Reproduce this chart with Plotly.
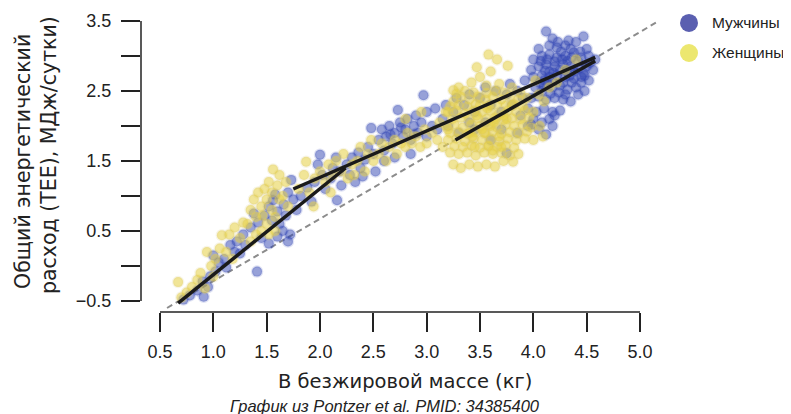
import plotly.graph_objects as go

# ---------------- data ----------------
x_ticks = [0.5, 1.0, 1.5, 2.0, 2.5, 3.0, 3.5, 4.0, 4.5, 5.0]
x_tick_labels = ["0.5", "1.0", "1.5", "2.0", "2.5", "3.0", "3.5", "4.0", "4.5", "5.0"]
y_ticks = [-0.5, 0.0, 0.5, 1.0, 1.5, 2.0, 2.5, 3.0, 3.5]
y_tick_labels = ["\u22120.5", "", "0.5", "", "1.5", "", "2.5", "", "3.5"]

series_names = ["Мужчины", "Женщины"]

men_points = [
    # tail
    (0.72, -0.48), (0.78, -0.42), (0.85, -0.35), (0.91, -0.44), (0.90, -0.22), (0.97, -0.15),
    (1.02, -0.08), (1.05, 0.05), (1.10, 0.10), (1.16, 0.30), (1.20, 0.20), (1.25, 0.18),
    (1.22, 0.35), (1.41, -0.08), (1.30, 0.30), (1.28, 0.45), (1.12, -0.02), (0.95, -0.30), (1.00, 0.15),
    # first cluster
    (1.35, 0.55), (1.42, 0.62), (1.48, 0.72), (1.52, 0.85), (1.56, 0.94), (1.60, 0.78), (1.62, 0.60),
    (1.65, 0.50), (1.70, 0.35), (1.72, 0.45), (1.66, 0.88), (1.58, 1.02), (1.70, 1.05), (1.75, 0.95),
    (1.45, 0.40), (1.52, 0.32), (1.38, 0.75), (1.60, 0.42), (1.55, 0.65), (1.68, 0.72), (1.73, 1.23),
    (1.78, 0.80),
    # middle
    (1.82, 1.00), (1.88, 1.12), (1.92, 0.92), (1.95, 1.20), (2.00, 1.59), (2.02, 1.30), (2.05, 1.10),
    (2.10, 1.25), (2.12, 1.40), (2.16, 0.94), (2.18, 1.35), (2.20, 1.15), (2.25, 1.45), (2.28, 1.30),
    (2.30, 1.55), (2.33, 1.20), (2.36, 1.62), (2.38, 1.40), (2.42, 1.52), (2.45, 1.70), (2.48, 1.97),
    (2.50, 1.60), (2.52, 1.35), (2.40, 1.28), (2.15, 1.55), (1.98, 1.45),
    # band
    (2.55, 1.80), (2.58, 1.95), (2.60, 1.65), (2.62, 1.85), (2.65, 2.00), (2.68, 1.75), (2.70, 1.90),
    (2.73, 2.23), (2.75, 2.05), (2.78, 1.85), (2.80, 1.95), (2.82, 2.10), (2.85, 1.80), (2.88, 2.00),
    (2.90, 2.15), (2.92, 1.90), (2.95, 2.05), (2.97, 2.44), (3.00, 2.20), (3.00, 1.85), (3.05, 2.00),
    (3.08, 2.25), (3.10, 1.95), (3.15, 2.10), (3.18, 2.30), (3.20, 2.00), (3.25, 2.20), (3.28, 2.40),
    (2.70, 1.55), (2.85, 1.60), (2.60, 1.50), (2.76, 1.98), (2.88, 1.88), (2.66, 1.88),
    # inside the women cluster
    (3.35, 2.30), (3.40, 2.45), (3.45, 2.20), (3.50, 2.40), (3.55, 2.55), (3.60, 2.30), (3.65, 2.50),
    (3.70, 2.20), (3.75, 2.45), (3.78, 2.60), (3.80, 2.30), (3.85, 2.50), (3.88, 2.15), (3.90, 2.40),
    (3.92, 2.65), (3.45, 1.95), (3.60, 1.80), (3.75, 1.61), (3.55, 2.05), (3.70, 1.95), (3.85, 1.90),
    (3.95, 2.00), (3.40, 2.05), (3.30, 1.90),
    # upper-right cluster
    (4.12, 3.35), (4.47, 3.28), (4.18, 3.25),
    (4.05, 3.10), (4.15, 3.15), (4.22, 3.12), (4.30, 3.15), (4.40, 3.20), (4.50, 3.10),
    (4.00, 2.95), (4.08, 3.00), (4.15, 3.02), (4.22, 2.98), (4.30, 3.00), (4.38, 3.05), (4.45, 2.98),
    (4.52, 3.00), (4.58, 2.95),
    (3.98, 2.80), (4.05, 2.85), (4.12, 2.88), (4.20, 2.85), (4.28, 2.88), (4.35, 2.85), (4.42, 2.82),
    (4.50, 2.85), (4.56, 2.80),
    (4.00, 2.70), (4.08, 2.72), (4.15, 2.70), (4.22, 2.72), (4.30, 2.70), (4.38, 2.68), (4.45, 2.70),
    (4.52, 2.65),
    (4.02, 2.55), (4.10, 2.58), (4.18, 2.55), (4.25, 2.58), (4.32, 2.52), (4.40, 2.55), (4.48, 2.50),
    (3.98, 2.40), (4.05, 2.42), (4.12, 2.38), (4.20, 2.40), (4.28, 2.38), (4.35, 2.35),
    (3.95, 2.25), (4.03, 2.20), (4.10, 2.25), (4.18, 2.20), (4.25, 2.22),
    (4.00, 2.10), (4.08, 2.05), (4.15, 2.10),
    (4.20, 2.92), (4.32, 2.93), (4.25, 2.80), (4.38, 2.78), (4.28, 2.62), (4.15, 2.78), (4.42, 2.92),
    (4.35, 3.10), (4.10, 2.65), (4.45, 2.62), (4.26, 3.06), (4.18, 2.64), (4.34, 2.72), (4.24, 2.48),
    (4.07, 2.93), (4.13, 2.95), (4.27, 2.95), (4.36, 2.98), (4.44, 3.06), (4.11, 2.79), (4.19, 2.76),
    (4.31, 2.79), (4.47, 2.76), (4.06, 2.62), (4.14, 2.60), (4.36, 2.62), (4.42, 2.45), (4.30, 2.45),
    (4.16, 2.46), (4.08, 2.50), (4.23, 3.20), (4.33, 3.22), (4.53, 2.90), (4.48, 2.72),
    (4.05, 1.95), (4.12, 1.88), (4.18, 2.00), (3.98, 2.02), (4.20, 2.15),
]

women_points = [
    # tail
    (0.67, -0.23), (0.70, -0.45), (0.75, -0.38), (0.80, -0.30), (0.85, -0.20), (0.88, -0.10),
    (0.94, 0.20), (0.98, 0.00), (1.02, 0.10), (1.08, 0.44), (1.06, 0.25), (1.12, 0.20), (1.15, 0.45),
    (1.18, 0.10), (1.20, 0.55), (1.25, 0.40), (1.28, 0.62), (0.92, -0.32), (1.00, -0.15),
    # first cluster
    (1.32, 0.60), (1.35, 0.80), (1.38, 0.95), (1.40, 0.70), (1.42, 1.05), (1.45, 0.85), (1.48, 1.10),
    (1.50, 0.60), (1.50, 0.95), (1.52, 1.20), (1.55, 0.80), (1.55, 1.05), (1.58, 0.70), (1.60, 1.15),
    (1.62, 0.95), (1.65, 1.00), (1.45, 0.50), (1.40, 0.45), (1.35, 0.35), (1.58, 0.50), (1.68, 1.20),
    (1.70, 0.85), (1.62, 1.30), (1.56, 1.38), (1.46, 0.72), (1.52, 0.45),
    # middle
    (1.80, 1.10), (1.85, 1.30), (1.87, 1.49), (1.90, 1.05), (1.94, 0.85), (1.95, 1.25), (2.00, 1.35),
    (2.05, 1.20), (2.08, 1.45), (2.12, 1.30), (2.15, 1.50), (2.20, 1.35), (2.22, 1.60), (2.26, 1.25),
    (2.30, 1.45), (2.35, 1.50), (2.38, 1.70), (2.42, 1.35), (2.45, 1.60), (2.50, 1.50), (2.48, 1.80),
    (2.10, 1.05), (2.32, 1.30),
    # band
    (2.55, 1.60), (2.58, 1.75), (2.62, 1.50), (2.65, 1.70), (2.70, 1.80), (2.72, 1.60), (2.76, 1.75),
    (2.80, 1.70), (2.82, 1.90), (2.86, 1.75), (2.90, 1.85), (2.94, 1.70), (2.98, 1.95), (3.00, 1.75),
    (3.05, 1.90), (3.10, 1.80), (3.12, 2.05), (3.15, 1.70), (3.20, 1.95), (3.25, 2.51), (3.18, 2.20),
    (2.95, 2.20), (2.80, 2.10),
    # main women cluster
    (3.47, 2.84), (3.58, 3.02), (3.66, 2.95), (3.76, 2.86), (3.60, 2.78), (3.50, 2.70),
    (3.30, 2.55), (3.42, 2.62), (3.56, 2.58), (3.68, 2.60), (3.80, 2.55),
    (3.28, 2.46), (3.36, 2.50), (3.44, 2.48), (3.56, 2.47), (3.64, 2.50), (3.72, 2.48), (3.88, 2.47),
    (3.25, 2.35), (3.32, 2.42), (3.40, 2.38), (3.48, 2.42), (3.55, 2.38), (3.62, 2.42), (3.70, 2.38),
    (3.78, 2.42), (3.86, 2.38), (3.94, 2.40),
    (3.22, 2.28), (3.30, 2.30), (3.38, 2.28), (3.46, 2.31), (3.58, 2.29), (3.66, 2.31), (3.74, 2.29),
    (3.82, 2.31), (3.90, 2.29),
    (3.20, 2.20), (3.28, 2.22), (3.36, 2.18), (3.44, 2.22), (3.52, 2.20), (3.60, 2.22), (3.68, 2.18),
    (3.76, 2.22), (3.84, 2.20), (3.92, 2.22), (4.00, 2.20),
    (3.24, 2.10), (3.32, 2.12), (3.40, 2.09), (3.48, 2.11), (3.56, 2.10), (3.64, 2.12), (3.72, 2.09),
    (3.80, 2.11), (3.88, 2.10), (3.96, 2.12),
    (3.18, 2.00), (3.26, 2.02), (3.34, 1.98), (3.42, 2.02), (3.50, 2.00), (3.58, 2.02), (3.66, 1.98),
    (3.74, 2.02), (3.82, 2.00), (3.90, 2.02), (3.98, 1.98), (4.06, 2.00),
    (3.22, 1.90), (3.30, 1.91), (3.38, 1.89), (3.46, 1.91), (3.54, 1.90), (3.62, 1.92), (3.70, 1.89),
    (3.78, 1.91), (3.86, 1.90), (3.94, 1.92),
    (3.20, 1.80), (3.28, 1.82), (3.36, 1.78), (3.44, 1.82), (3.52, 1.80), (3.60, 1.82), (3.68, 1.78),
    (3.76, 1.82), (3.84, 1.80), (3.92, 1.82), (4.00, 1.80),
    (3.26, 1.71), (3.34, 1.70), (3.42, 1.72), (3.50, 1.69), (3.58, 1.71), (3.66, 1.70), (3.74, 1.72),
    (3.82, 1.69),
    (3.22, 1.62), (3.30, 1.60), (3.38, 1.62), (3.46, 1.58), (3.54, 1.62), (3.62, 1.60), (3.70, 1.62),
    (3.78, 1.58), (3.86, 1.60),
    (3.25, 1.45), (3.32, 1.40), (3.40, 1.45), (3.48, 1.42), (3.56, 1.45), (3.64, 1.42), (3.81, 1.49),
    (3.72, 1.50),
    (3.55, 1.90), (3.65, 2.10), (3.50, 2.30), (3.70, 1.70), (3.45, 1.70), (3.60, 2.00), (3.75, 2.10),
    (3.40, 1.90), (3.58, 1.72), (3.80, 2.30), (3.52, 1.95), (3.63, 2.05), (3.47, 2.15), (3.68, 1.85),
    (3.57, 2.25), (3.72, 2.15), (3.43, 1.85), (3.62, 1.65),
    # some women among the men cluster
    (4.05, 2.45), (4.15, 2.55), (4.10, 2.35), (4.22, 2.62), (4.30, 2.80), (4.40, 2.95), (4.02, 2.65),
    (4.09, 1.85),
]

# fitted segments (x0, y0, x1, y1)
fit_lines = [
    (0.67, -0.53, 2.24, 1.40),
    (1.75, 1.10, 4.58, 2.98),
    (3.27, 1.80, 4.58, 2.93),
]
ref_line = (0.566, -0.60, 5.16, 3.486)

# ---------------- figure ----------------
men_x = [p[0] for p in men_points]
men_y = [p[1] for p in men_points]
women_x = [p[0] for p in women_points]
women_y = [p[1] for p in women_points]

FONT = "Liberation Sans, Arial, sans-serif"
TITLE_FONT = "DejaVu Sans, Liberation Sans, sans-serif"
DARK = "#222222"

fig = go.Figure()

fig.add_trace(go.Scatter(
    x=[ref_line[0], ref_line[2]], y=[ref_line[1], ref_line[3]], mode="lines",
    line=dict(color="#8c8c8c", width=2, dash="6px,4px"), showlegend=False, hoverinfo="skip"))

fig.add_trace(go.Scatter(
    x=men_x, y=men_y, mode="markers", name=series_names[0], showlegend=False,
    marker=dict(size=10, color="rgba(48,68,178,0.5)",
                line=dict(width=2.5, color="rgba(48,68,178,0.15)"))))
fig.add_trace(go.Scatter(
    x=women_x, y=women_y, mode="markers", name=series_names[1], showlegend=False,
    marker=dict(size=10, color="rgba(230,208,66,0.55)",
                line=dict(width=2.5, color="rgba(215,200,120,0.18)"))))

for (x0, y0, x1, y1) in fit_lines:
    fig.add_trace(go.Scatter(x=[x0, x1], y=[y0, y1], mode="lines",
                             line=dict(color="#1a1a1a", width=3.5),
                             showlegend=False, hoverinfo="skip"))

# legend drawn by hand (circle + label)
legend_colors = ["#5a5fb0", "#ece76f"]
legend_y = [0.9507, 0.852]
for name, col, ly in zip(series_names, legend_colors, legend_y):
    fig.add_shape(type="circle", xref="paper", yref="paper", xsizemode="pixel", ysizemode="pixel",
                  xanchor=1.0559, yanchor=ly, x0=-9, x1=9, y0=-9, y1=9,
                  fillcolor=col, line=dict(width=0))
    fig.add_annotation(text=name, xref="paper", yref="paper", x=1.0964, y=ly,
                       xanchor="left", yanchor="middle", showarrow=False,
                       font=dict(family=FONT, size=15.5, color=DARK))

# axis lines (offset R-style)
fig.add_shape(type="line", xref="x", yref="paper", x0=0.5, x1=5.0, y0=0, y1=0,
              line=dict(color=DARK, width=1.5))
fig.add_shape(type="line", xref="paper", yref="y", x0=0, x1=0, y0=-0.5, y1=3.5,
              line=dict(color=DARK, width=1.5))

fig.add_annotation(text="В безжировой массе (кг)", xref="paper", yref="paper",
                   x=0.5087, y=-0.229, showarrow=False, xanchor="center", yanchor="middle",
                   font=dict(family=TITLE_FONT, size=19.5, color=DARK))
fig.add_annotation(text="<i>График из Pontzer et al. PMID: 34385400</i>", xref="paper", yref="paper",
                   x=0.4692, y=-0.309, showarrow=False, xanchor="center", yanchor="middle",
                   font=dict(family=FONT, size=16.5, color=DARK))
fig.add_annotation(text="Общий энергетический", xref="paper", yref="paper",
                   x=(23 - 141) / 519, y=(312 - 162) / 304, showarrow=False,
                   xanchor="center", yanchor="middle", textangle=-90,
                   font=dict(family=TITLE_FONT, size=20.5, color=DARK))
fig.add_annotation(text="расход (TEE), МДж/сутки)", xref="paper", yref="paper",
                   x=(49 - 141) / 519, y=(312 - 155) / 304, showarrow=False,
                   xanchor="center", yanchor="middle", textangle=-90,
                   font=dict(family=TITLE_FONT, size=20.5, color=DARK))

# the page body adds an 8px margin, so the figure is 8px smaller than the window
fig.update_layout(
    width=783, height=406,
    margin=dict(l=133, r=131, t=0, b=102, autoexpand=False),
    paper_bgcolor="white", plot_bgcolor="white",
    font=dict(family=FONT, color=DARK),
    showlegend=False,
    xaxis=dict(range=[0.3219, 5.1875], tickvals=x_ticks, ticktext=x_tick_labels,
               showline=False, showgrid=False, zeroline=False,
               ticks="outside", ticklen=19, tickwidth=1.5, tickcolor=DARK,
               ticklabelstandoff=4,
               tickfont=dict(family=FONT, size=18, color=DARK)),
    yaxis=dict(range=[-0.657, 3.686], tickvals=y_ticks, ticktext=y_tick_labels,
               showline=False, showgrid=False, zeroline=False,
               ticks="outside", ticklen=19, tickwidth=1.5, tickcolor=DARK,
               ticklabelstandoff=6,
               tickfont=dict(family=FONT, size=18, color=DARK)),
)

fig.write_html("out.html")
